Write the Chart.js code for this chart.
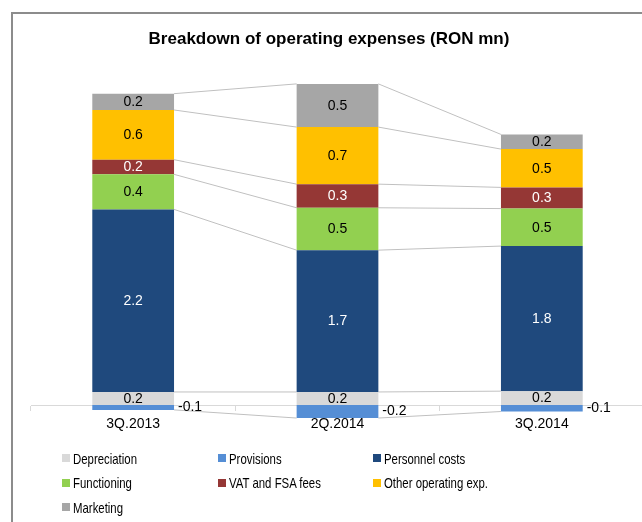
<!DOCTYPE html>
<html>
<head>
<meta charset="utf-8">
<script src="https://cdn.jsdelivr.net/npm/chart.js@4.4.1/dist/chart.umd.min.js"></script>
<style>
    html, body { margin: 0; padding: 0; background: #fff; overflow: hidden; }
    #wrap { position: relative; width: 642px; height: 522px; overflow: hidden; }
    #frame { position: absolute; left: 11px; top: 12px; width: 700px; height: 600px;
        border-left: 2px solid #8c8c8c; border-top: 2px solid #8c8c8c; box-sizing: border-box; }
    #chart { position: absolute; left: 0; top: 0; display: block; }
    #legend { position: absolute; left: 62px; top: 446px; display: grid;
        grid-template-columns: repeat(3, 155.5px); grid-auto-rows: 24.5px; align-items: center;
        font: 15px "Liberation Sans", Arial, sans-serif; color: #000; white-space: nowrap; }
    #legend span.box { display: inline-block; width: 8px; height: 8px; margin-right: 3px; vertical-align: 1.5px; }
    /* the original legend uses a narrow face */
    #legend span.txt { display: inline-block; transform: scaleX(0.76); transform-origin: left center; }
</style>
</head>
<body>
<div id="wrap">
    <div id="frame"></div>
    <canvas id="chart" width="660" height="522"></canvas>
    <div id="legend"></div>
</div>
<script>
// values in RON mn
const categories = ['3Q.2013', '2Q.2014', '3Q.2014'];
const depreciation = [0.16, 0.16, 0.17];
const provisions = [-0.06, -0.16, -0.08];
const personnel = [2.24, 1.74, 1.78];
const functioning = [0.43, 0.52, 0.46];
const vatFees = [0.18, 0.29, 0.26];
const otherExp = [0.61, 0.70, 0.47];
const marketing = [0.20, 0.53, 0.18];

Chart.defaults.font.family = '"Liberation Sans", Arial, sans-serif';
Chart.defaults.color = '#000';

const fmt = v => (Math.round(v * 10) / 10).toFixed(1);

// Excel-like series lines between neighbouring bars
const seriesLines = {
    id: 'seriesLines',
    beforeDatasetsDraw(chart) {
        const ctx = chart.ctx;
        ctx.save();
        ctx.strokeStyle = '#c0c0c0';
        ctx.lineWidth = 1;
        chart.data.datasets.forEach((ds, d) => {
            const bars = chart.getDatasetMeta(d).data;
            for (let i = 0; i < bars.length - 1; i++) {
                const a = bars[i], b = bars[i + 1];
                ctx.beginPath();
                ctx.moveTo(a.x + a.width / 2, a.y);
                ctx.lineTo(b.x - b.width / 2, b.y);
                ctx.stroke();
            }
        });
        ctx.restore();
    }
};

// value labels in the middle of each segment, provisions beside the bar
const valueLabels = {
    id: 'valueLabels',
    afterDatasetsDraw(chart) {
        const ctx = chart.ctx;
        ctx.save();
        ctx.font = '14px "Liberation Sans", Arial, sans-serif';
        ctx.textBaseline = 'middle';
        chart.data.datasets.forEach((ds, d) => {
            chart.getDatasetMeta(d).data.forEach((bar, i) => {
                const v = ds.data[i];
                const midY = (bar.y + bar.base) / 2;
                ctx.fillStyle = ds.labelColor;
                if (v < 0) {
                    ctx.textAlign = 'left';
                    ctx.fillText(fmt(v), bar.x + bar.width / 2 + 4, midY);
                } else {
                    ctx.textAlign = 'center';
                    ctx.fillText(fmt(v), bar.x, midY + 0.5);
                }
            });
        });
        ctx.restore();
    }
};

// centre the title on the frame rather than on the plot area
const titleSpan = {
    id: 'titleSpan',
    afterLayout(chart) {
        if (chart.titleBlock) {
            chart.titleBlock.left = 0;
            chart.titleBlock.right = 658;
        }
    }
};

const chart = new Chart(document.getElementById('chart'), {
    type: 'bar',
    data: {
        labels: categories,
        datasets: [
            { label: 'Depreciation', data: depreciation, backgroundColor: '#d9d9d9', labelColor: '#000' },
            { label: 'Provisions', data: provisions, backgroundColor: '#558ed5', labelColor: '#000' },
            { label: 'Personnel costs', data: personnel, backgroundColor: '#1f497d', labelColor: '#fff' },
            { label: 'Functioning', data: functioning, backgroundColor: '#92d050', labelColor: '#000' },
            { label: 'VAT and FSA fees', data: vatFees, backgroundColor: '#953735', labelColor: '#fff' },
            { label: 'Other operating exp.', data: otherExp, backgroundColor: '#ffc000', labelColor: '#000' },
            { label: 'Marketing', data: marketing, backgroundColor: '#a6a6a6', labelColor: '#000' }
        ]
    },
    options: {
        responsive: false,
        animation: false,
        datasets: { bar: { categoryPercentage: 1, barPercentage: 0.4, borderWidth: 0 } },
        layout: { padding: { left: 31, right: 16, top: 0, bottom: 76.25 } },
        plugins: {
            legend: { display: false },
            tooltip: { enabled: false },
            title: {
                display: true,
                text: 'Breakdown of operating expenses (RON mn)',
                font: { size: 17, weight: 'bold' },
                color: '#000',
                padding: { top: 29, bottom: 13.3 }
            }
        },
        scales: {
            x: {
                stacked: true,
                position: { y: 0 },
                grid: { drawOnChartArea: false, drawTicks: true, tickLength: 5, color: '#d9d9d9' },
                border: { display: true, color: '#d9d9d9', width: 1 },
                ticks: { font: { size: 14 }, color: '#000', padding: 6 }
            },
            y: {
                stacked: true,
                display: false,
                min: -0.5,
                max: 4.2
            }
        }
    },
    plugins: [seriesLines, valueLabels, titleSpan]
});

// three-column legend under the plot
const legendEl = document.getElementById('legend');
chart.options.plugins.legend.labels.generateLabels(chart).forEach(item => {
    const row = document.createElement('div');
    const box = document.createElement('span');
    box.className = 'box';
    box.style.background = item.fillStyle;
    const txt = document.createElement('span');
    txt.className = 'txt';
    txt.textContent = item.text;
    row.appendChild(box);
    row.appendChild(txt);
    legendEl.appendChild(row);
});
</script>
</body>
</html>
